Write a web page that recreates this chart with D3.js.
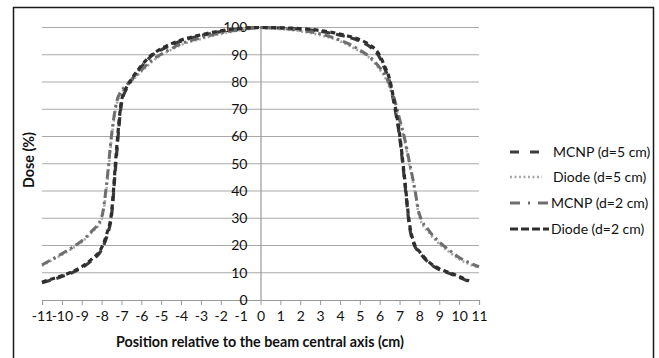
<!DOCTYPE html>
<html><head><meta charset="utf-8">
<script src="https://cdn.jsdelivr.net/npm/d3@7"></script>
<style>body{margin:0;background:#fff}svg{display:block}text{font-family:Lato,"Open Sans",sans-serif}</style>
</head><body><svg id="c" width="659" height="358"></svg>
<script>
const positions = [-11,-10.5,-10,-9.5,-9,-8.5,-8,-7.75,-7.5,-7.25,-7,-6.75,-6.5,-6,-5.5,-5,-4.5,-4,-3,-2,-1,0,1,2,3,4,4.5,5,5.5,6,6.25,6.5,6.75,7,7.25,7.5,7.75,8,8.5,9,9.5,10,10.5,11];
const mcnp5  = [6.3,7.4,8.6,10,11.8,14.5,18.5,23,31,53,72,77.5,80.5,85.5,89.5,91.8,93.5,95,97,98.5,99.5,100,99.8,99.4,98.6,97.2,96.3,95,93,89,85,80,71,60,44,27,20,17.5,13.5,11.2,9.8,8.3,6.8,null];
const diode5 = [12.5,14.6,16.6,18.8,21.3,24.8,29.5,41,59,71.5,76,78.2,80.2,83.8,87.2,89.8,91.8,93.6,95.8,97.6,99,99.8,99.4,98.6,97.2,95,93.2,91.2,88.8,84.6,82,78,72.5,65.5,58.5,49.5,40.5,30.5,24.6,20.6,17.6,15,13.2,11.8];
const mcnp2  = [12.9,14.9,17,19.2,21.7,25.2,30.3,42.5,60.5,72.5,76.8,78.8,80.8,84.3,87.8,90.2,92.2,94,96.2,98,99.3,100,99.7,99,97.7,95.4,93.8,91.7,89.2,85.3,82.8,79,73.5,66.5,59.5,50.5,41.5,31.5,25.3,21.3,18.3,15.6,13.7,12.2];
const diode2 = [6.6,7.7,8.9,10.3,12.2,15,19.2,24,32,55,73,78,81,86,89.8,92.2,94,95.4,97.3,98.8,99.7,100,99.9,99.6,98.9,97.6,96.7,95.5,93.6,89.8,85.8,81,72,61,45,28,20.5,17.8,13.8,11.5,10.1,8.6,7,null];
const seriesNames = ["MCNP (d=5 cm)","Diode (d=5 cm)","MCNP (d=2 cm)","Diode (d=2 cm)"];
const yTicks = [0,10,20,30,40,50,60,70,80,90,100];
const xTicks = d3.range(-11,12,1);
const xLabel = "Position relative to the beam central axis (cm)";
const yLabel = "Dose (%)";

const styles = [
  {color:"#3b3b3b", width:3.2, dash:"9,6", ldash:"9,11"},
  {color:"#a8a8a8", width:2.6, dash:"2,2.5", ldash:"2,2.5"},
  {color:"#6e6e6e", width:3.0, dash:"9,4,2.5,4", ldash:"10,8,2,8"},
  {color:"#2e2e2e", width:3.2, dash:"5,3.5", ldash:"8,3"}
];
const data = [mcnp5, diode5, mcnp2, diode2];
const FS = 14;

const svg = d3.select("#c");
svg.append("rect").attr("x",13.5).attr("y",7.5).attr("width",640).attr("height",360)
  .attr("fill","none").attr("stroke","#1a1a1a").attr("stroke-width",1.5);

const x = d3.scaleLinear().domain([-11,11]).range([42,479]);
const y = d3.scaleLinear().domain([0,100]).range([300,27.5]);

svg.append("g").selectAll("line").data(yTicks.filter(d=>d>0)).join("line")
  .attr("x1",x(-11)).attr("x2",x(11)).attr("y1",d=>y(d)).attr("y2",d=>y(d))
  .attr("stroke","#a9a9a9").attr("stroke-width",1.2);

const xa = svg.append("g").attr("transform",`translate(0,${y(0)})`)
  .call(d3.axisBottom(x).tickValues(xTicks).tickSize(5).tickPadding(6).tickFormat(d=>String(d)));
xa.select(".domain").attr("stroke","#9a9a9a").attr("stroke-width",1.2);
xa.selectAll(".tick line").attr("stroke","#9a9a9a");
xa.selectAll("text").attr("font-size",FS).attr("fill","#111").attr("font-family","Lato, sans-serif");

const ya = svg.append("g").attr("transform",`translate(${x(0)},0)`)
  .call(d3.axisLeft(y).tickValues(yTicks).tickSize(0).tickPadding(13).tickFormat(d=>String(d)));
ya.select(".domain").attr("stroke","#9a9a9a").attr("stroke-width",1.2);
ya.selectAll("text").attr("font-size",FS).attr("fill","#111").attr("font-family","Lato, sans-serif");

const line = d3.line().defined(d=>d[1]!=null).x(d=>x(d[0])).y(d=>y(d[1])).curve(d3.curveMonotoneX);
data.forEach((vals,i)=>{
  const pts = positions.map((p,j)=>[p,vals[j]]);
  svg.append("path").datum(pts).attr("d",line).attr("fill","none")
    .attr("stroke",styles[i].color).attr("stroke-width",styles[i].width)
    .attr("stroke-dasharray",styles[i].dash);
});

svg.append("text").attr("x",260).attr("y",347).attr("text-anchor","middle")
  .attr("font-weight","bold").attr("font-size",14.3).attr("fill","#111").text(xLabel);
svg.append("text").attr("transform","translate(34,160) rotate(-90)").attr("text-anchor","middle")
  .attr("font-weight","bold").attr("font-size",14.3).attr("fill","#111").text(yLabel);

const ly = [152,177,203,229];
seriesNames.forEach((n,i)=>{
  const g = svg.append("g");
  g.append("line").attr("x1",510).attr("x2", i===1?542:549).attr("y1",ly[i]).attr("y2",ly[i])
    .attr("stroke",styles[i].color).attr("stroke-width",styles[i].width)
    .attr("stroke-dasharray",styles[i].ldash);
  g.append("text").attr("x",i>=2?551:553).attr("y",ly[i]).attr("dy","0.35em")
    .attr("font-size",FS).attr("fill","#111").text(n);
});
</script></body></html>
